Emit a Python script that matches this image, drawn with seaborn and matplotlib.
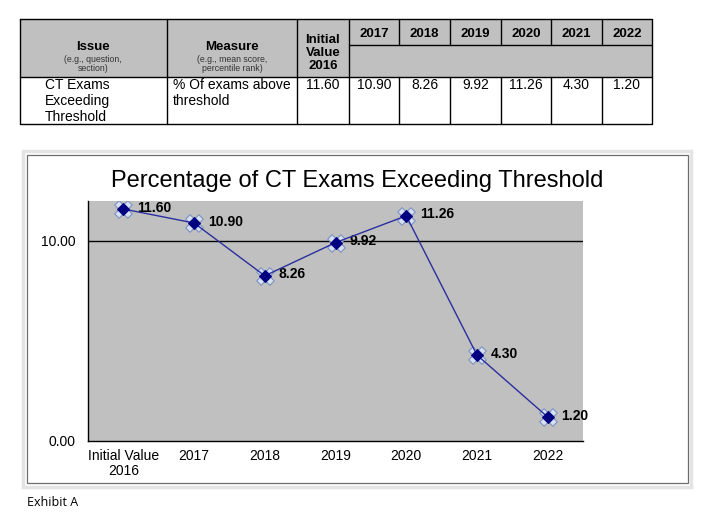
import matplotlib.pyplot as plt
from matplotlib.patches import Rectangle
import seaborn as sns
import pandas as pd

# data
categories = ['Initial Value\n2016', '2017', '2018', '2019', '2020', '2021', '2022']
years = ['2017', '2018', '2019', '2020', '2021', '2022']
values = [11.60, 10.90, 8.26, 9.92, 11.26, 4.30, 1.20]
y_ticks = [0.0, 10.0]

sns.set_style('white')
plt.rcParams['font.family'] = ['Liberation Sans', 'DejaVu Sans']
plt.rcParams['text.color'] = 'black'
plt.rcParams['xtick.color'] = 'black'
plt.rcParams['ytick.color'] = 'black'

fig = plt.figure(figsize=(7.12, 5.15), dpi=100)
W, H = 712, 515

# full figure overlay in pixel coords for the table and frame
bg = fig.add_axes([0, 0, 1, 1])
bg.set_xlim(0, W)
bg.set_ylim(H, 0)
bg.axis('off')

# ---- table ----
GRAY = '#c0c0c0'
cols = [20, 167, 297, 349, 399, 450, 501, 551, 602, 652]
top, r1, r2, bot = 19, 45, 77, 124
bg.add_patch(Rectangle((20, top), 632, r2 - top, facecolor=GRAY, edgecolor='none'))
bg.plot([20, 652, 652, 20, 20], [top, top, bot, bot, top], color='black', lw=1)
bg.plot([20, 652], [r2, r2], color='black', lw=1)
bg.plot([349, 652], [r1, r1], color='black', lw=1)
for x in cols[1:4]:
    bg.plot([x, x], [top, bot], color='black', lw=1)
for x in cols[4:-1]:
    bg.plot([x, x], [top, r1], color='black', lw=1)
    bg.plot([x, x], [r2, bot], color='black', lw=1)

bg.text(93, 47, 'Issue', ha='center', va='center', fontsize=9.5, fontweight='bold')
bg.text(93, 64, '(e.g., question,\nsection)', ha='center', va='center', fontsize=6.3,
        color='#333333', linespacing=1.0)
bg.text(232, 47, 'Measure', ha='center', va='center', fontsize=9.5, fontweight='bold')
bg.text(232, 64, '(e.g., mean score,\npercentile rank)', ha='center', va='center', fontsize=6.3,
        color='#333333', linespacing=1.0)
bg.text(323, 53, 'Initial\nValue\n2016', ha='center', va='center', fontsize=9.5,
        fontweight='bold', linespacing=1.1)
for i, yr in enumerate(years):
    bg.text((cols[i + 3] + cols[i + 4]) / 2, 34, yr, ha='center', va='center',
            fontsize=9.5, fontweight='bold')

bg.text(45, 101, 'CT Exams\nExceeding\nThreshold', ha='left', va='center', fontsize=10,
        linespacing=1.15)
bg.text(173, 93, '% Of exams above\nthreshold', ha='left', va='center', fontsize=10,
        linespacing=1.15)
for i, v in enumerate(values):
    bg.text((cols[i + 2] + cols[i + 3]) / 2, 85, f'{v:.2f}', ha='center', va='center',
            fontsize=10)

# ---- chart frame ----
bg.add_patch(Rectangle((23, 151), 668, 336, facecolor='white', edgecolor='#e4e4e4', lw=2.5))
bg.add_patch(Rectangle((27, 155), 661, 328, facecolor='none', edgecolor='#6e6e6e', lw=0.9))
bg.text(357, 181, 'Percentage of CT Exams Exceeding Threshold', ha='center', va='center',
        fontsize=17)
bg.text(27, 503, 'Exhibit A', ha='left', va='center', fontsize=9, family=['Open Sans', 'DejaVu Sans'])

# ---- line chart ----
ax = fig.add_axes([88 / W, 1 - 441 / H, (583 - 88) / W, (441 - 201) / H])
ax.set_facecolor(GRAY)
df = pd.DataFrame({'pos': range(len(categories)), 'value': values})
ax.scatter(df['pos'], df['value'], marker='X', s=160, facecolor='#d6e0f0',
           edgecolor='#7d93c2', lw=0.8, zorder=3)
sns.lineplot(data=df, x='pos', y='value', ax=ax, color='#2b2f9e', lw=1,
             marker='D', markersize=6, markerfacecolor='#000080',
             markeredgecolor='#000080', zorder=4)
for p, v in zip(df['pos'], df['value']):
    ax.annotate(f'{v:.2f}', (p, v), xytext=(10, 1), textcoords='offset points',
                ha='left', va='center', fontsize=10, fontweight='bold')

ax.set_xlim(-0.5, len(categories) - 0.5)
ax.set_ylim(0, 12)
ax.axhline(10, color='black', lw=1, zorder=1)
ax.set_yticks(y_ticks)
ax.set_yticklabels([f'{t:.2f}' for t in y_ticks], fontsize=10)
ax.set_xticks(range(len(categories)))
ax.set_xticklabels(categories, fontsize=10, linespacing=1.1)
ax.set_xticks([i - 0.5 for i in range(len(categories) + 1)], minor=True)
ax.tick_params(axis='x', which='major', length=0, pad=6)
ax.tick_params(axis='x', which='minor', length=5, direction='out', color='black', width=1)
ax.tick_params(axis='y', length=5, direction='out', color='black', width=1, pad=4)
ax.set_xlabel('')
ax.set_ylabel('')
for side in ['top', 'right']:
    ax.spines[side].set_visible(False)
ax.spines['left'].set_color('black')
ax.spines['bottom'].set_color('black')
ax.spines['left'].set_linewidth(1)
ax.spines['bottom'].set_linewidth(1)

fig.savefig('out.png', dpi=100)
